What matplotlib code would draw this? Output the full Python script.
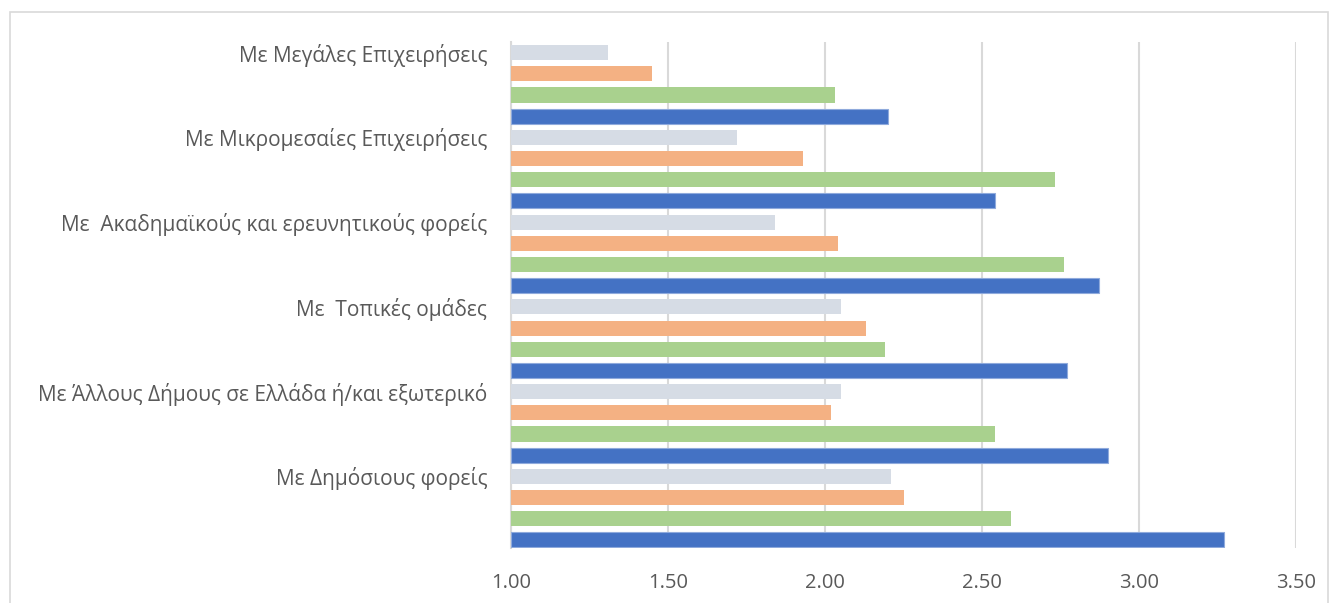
import matplotlib
matplotlib.use("Agg")
import matplotlib.pyplot as plt
from matplotlib.patches import Rectangle
import numpy as np

plt.rcParams['font.family'] = ['Open Sans', 'DejaVu Sans']

# Categories listed bottom to top
categories = [
    "Με Δημόσιους φορείς",
    "Με Άλλους Δήμους σε Ελλάδα ή/και εξωτερικό",
    "Με  Τοπικές ομάδες",
    "Με  Ακαδημαϊκούς και ερευνητικούς φορείς",
    "Με Μικρομεσαίες Επιχειρήσεις",
    "Με Μεγάλες Επιχειρήσεις",
]
series_blue = [3.27, 2.90, 2.77, 2.87, 2.54, 2.20]
series_green = [2.59, 2.54, 2.19, 2.76, 2.73, 2.03]
series_orange = [2.25, 2.02, 2.13, 2.04, 1.93, 1.45]
series_gray = [2.21, 2.05, 2.05, 1.84, 1.72, 1.31]
x_ticks = [1.00, 1.50, 2.00, 2.50, 3.00, 3.50]

series = [series_blue, series_green, series_orange, series_gray]
colors = ["#4472C4", "#A9D18E", "#F4B183", "#D6DCE5"]
edges = ["#8FAADC", "none", "none", "none"]

fig = plt.figure(figsize=(13.33, 6.03), dpi=100)
ax = fig.add_axes([0.3833, 0.0912, 0.5893, 0.8391])

base = 1.0
n_series = len(series)
for gi in range(len(categories)):
    for si, (vals, col, ec) in enumerate(zip(series, colors, edges)):
        pos = gi * n_series + si
        ax.barh(pos, vals[gi] - base, left=base, height=0.71, color=col,
                edgecolor=ec, linewidth=0.8 if ec != "none" else 0, zorder=3)

label_pos = [gi * n_series + (n_series - 1) for gi in range(len(categories))]
ax.set_yticks(label_pos)
ax.set_yticklabels(categories, fontsize=15, color="#595959")
ax.set_ylim(-0.38, 23.5)

ax.set_xlim(1.0, 3.5)
ax.set_xticks(x_ticks)
ax.set_xticklabels([f"{v:.2f}" for v in x_ticks], fontsize=14.5, color="#595959")
ax.tick_params(axis="both", length=0)
ax.tick_params(axis="y", pad=17)
ax.tick_params(axis="x", pad=18)

ax.grid(axis="x", color="#D9D9D9", linewidth=1.5, zorder=0)
for s in ["top", "right", "bottom"]:
    ax.spines[s].set_visible(False)
ax.spines["left"].set_color("#D9D9D9")
ax.spines["left"].set_linewidth(1.5)

fig.patches.append(Rectangle((10 / 1333, -0.01), 1318 / 1333, (603 - 12) / 603 + 0.01,
                             transform=fig.transFigure, fill=False,
                             edgecolor="#D9D9D9", linewidth=1.2))

fig.savefig("out.png", dpi=100)
